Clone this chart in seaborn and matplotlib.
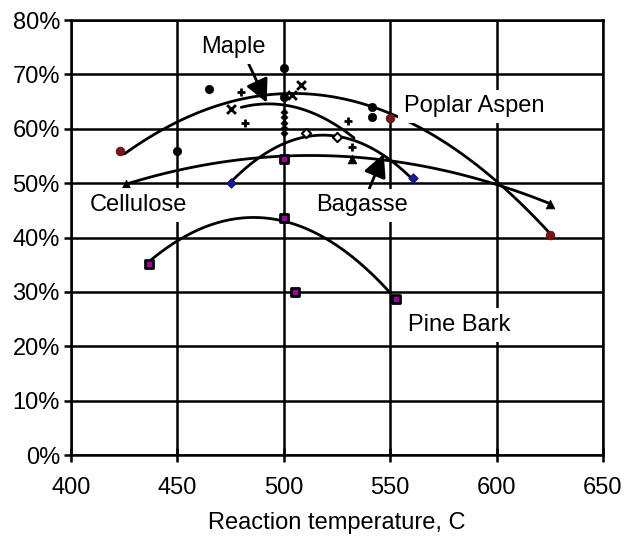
import numpy as np
import pandas as pd
import seaborn as sns
import matplotlib
matplotlib.use("Agg")
import matplotlib.pyplot as plt

# ---- data (temperature C, yield %) ----
# markers
circle_x = [450, 465, 500, 500, 541.5, 541.5]
circle_y = [56.0, 67.3, 71.2, 65.8, 64.0, 62.1]
red_circle_x = [423, 550, 625]
red_circle_y = [56.0, 62.0, 40.5]
cross_x = [475, 504, 508]
cross_y = [63.6, 66.2, 68.0]
plus_x = [480, 482, 530, 532]
plus_y = [66.7, 61.0, 61.5, 56.6]
small_dia_x = [500, 500, 500, 500, 500]
small_dia_y = [63.0, 62.1, 61.1, 60.2, 59.2]
open_dia_x = [510.5, 525]
open_dia_y = [59.2, 58.4]
blue_dia_x = [475, 560.5]
blue_dia_y = [50.0, 51.0]
tri_x = [426, 532, 625]
tri_y = [49.9, 54.5, 46.2]
square_x = [436.7, 500, 505.4, 552.9, 500]
square_y = [35.2, 43.5, 30.0, 28.7, 54.4]

# trend curves
poplar_x = [425, 450, 476, 500, 523, 542, 570, 601, 625]
poplar_y = [55.5, 61.0, 65.2, 66.5, 65.8, 63.8, 59.2, 50.0, 40.7]
maple_x = [480, 492, 500, 515, 526, 533]
maple_y = [63.8, 64.9, 64.3, 62.5, 60.3, 58.4]
bagasse_x = [475, 500, 513, 525, 543.5, 560.5]
bagasse_y = [50.0, 57.5, 59.0, 58.4, 55.5, 51.0]
cellulose_x = [426, 450, 500, 539, 601, 625]
cellulose_y = [49.9, 52.2, 55.1, 54.5, 49.7, 46.2]
pine_x = [436.7, 450, 485, 500, 523, 550]
pine_y = [35.2, 39.8, 43.7, 43.5, 38.1, 30.2]

x_ticks = [400, 450, 500, 550, 600, 650]
y_ticks = [0, 10, 20, 30, 40, 50, 60, 70, 80]
y_tick_labels = [f"{v}%" for v in y_ticks]
x_label = "Reaction temperature, C"

sns.set_theme(style="white")
plt.rcParams['font.family'] = ['Liberation Sans', 'DejaVu Sans']
plt.rcParams['text.color'] = 'black'
plt.rcParams['axes.labelcolor'] = 'black'
plt.rcParams['xtick.color'] = 'black'
plt.rcParams['ytick.color'] = 'black'

fig = plt.figure(figsize=(6.37, 5.37), dpi=100)
ax = fig.add_axes([0.1115, 0.1527, 0.835, 0.81])

# trend curves
for cx, cy in [(poplar_x, poplar_y), (maple_x, maple_y), (bagasse_x, bagasse_y),
               (cellulose_x, cellulose_y), (pine_x, pine_y)]:
    sns.regplot(x=cx, y=cy, order=2, ci=None, scatter=False, truncate=True, ax=ax,
                line_kws=dict(color="black", lw=2.0, zorder=4))

# markers
kw = dict(ax=ax, legend=False, zorder=5)
sns.scatterplot(x=circle_x, y=circle_y, marker="o", s=36, color="black",
                edgecolor="black", linewidth=0.5, **kw)
sns.scatterplot(x=red_circle_x, y=red_circle_y, marker="o", s=40, color="#7a1414",
                edgecolor="#5a0e0e", linewidth=0.5, **kw)
sns.scatterplot(x=cross_x, y=cross_y, marker="x", s=40, color="black", linewidth=2, **kw)
sns.scatterplot(x=plus_x, y=plus_y, marker="+", s=40, color="black", linewidth=2, **kw)
sns.scatterplot(x=small_dia_x, y=small_dia_y, marker="D", s=14, color="black",
                edgecolor="black", **kw)
sns.scatterplot(x=open_dia_x, y=open_dia_y, marker="D", s=22, color="white",
                edgecolor="black", linewidth=1.5, **kw)
sns.scatterplot(x=blue_dia_x, y=blue_dia_y, marker="D", s=22, color="#1a1a9a",
                edgecolor="#10106a", linewidth=0.8, **kw)
sns.scatterplot(x=tri_x, y=tri_y, marker="^", s=40, color="black",
                edgecolor="black", **kw)
sns.scatterplot(x=square_x, y=square_y, marker="s", s=40, color="#a000a0",
                edgecolor="black", linewidth=2, **kw)

ax.set_xlim(400, 650)
ax.set_ylim(0, 80)
ax.set_xticks(x_ticks)
ax.set_yticks(y_ticks)
ax.set_yticklabels(y_tick_labels)
ax.grid(True, color="black", lw=1.8, zorder=1)
ax.set_axisbelow(True)
for sp in ax.spines.values():
    sp.set_color("black")
    sp.set_linewidth(1.8)
ax.tick_params(axis="y", direction="out", length=5, width=1.8, color="black",
               labelsize=17, pad=3, left=True, labelcolor="black")
ax.tick_params(axis="x", direction="inout", length=10, width=1.8, color="black",
               labelsize=17, pad=11, bottom=True, labelcolor="black")
ax.set_xlabel(x_label, fontsize=17, labelpad=9, color="black")
ax.set_ylabel("")

box = dict(boxstyle="square,pad=0.25", fc="white", ec="none")
txt = dict(fontsize=17, ha="center", va="center", zorder=6, bbox=box, color="black")
ax.text(589.6, 64.1, "Poplar Aspen", **txt)
ax.text(431.5, 46.0, "Cellulose", **txt)
ax.text(582.5, 23.9, "Pine Bark", **txt)

arrow = dict(arrowstyle="-|>,head_length=1.0,head_width=0.5", color="black",
             lw=2, shrinkA=0, shrinkB=0, mutation_scale=14)
ax.annotate("Maple", xy=(492.0, 64.8), xytext=(476.2, 75.0), fontsize=17,
            ha="center", va="center", zorder=6, bbox=box, color="black",
            arrowprops=dict(arrow, relpos=(0.7, 0.0)))
ax.annotate("Bagasse", xy=(547.0, 55.4), xytext=(536.9, 45.9), fontsize=17,
            ha="center", va="center", zorder=6, bbox=box, color="black",
            arrowprops=dict(arrow, relpos=(0.55, 1.0)))

fig.savefig("out.png", dpi=100)
